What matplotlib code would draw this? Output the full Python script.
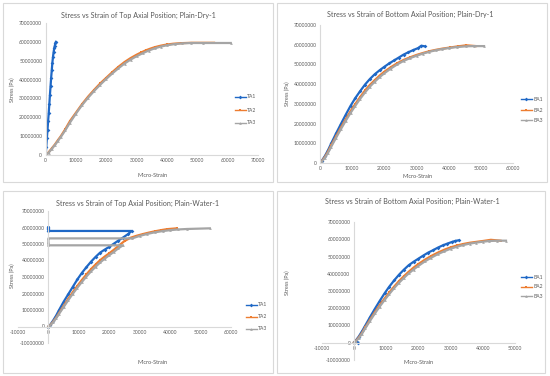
import matplotlib.pyplot as plt
from matplotlib.patches import Rectangle
from matplotlib.ticker import MultipleLocator, FuncFormatter

# ---- data (strain in micro-strain, stress in MPa -> plotted in Pa) ----
# top axial, dry
ta1_dry_strain = [0, 200, 400, 600, 800, 1000, 1200, 1400, 1600, 1800, 2000, 2200, 2400, 2600, 2800, 3000, 3200, 3350]
ta1_dry_mpa = [0, 4.5, 9, 13.5, 18, 22.5, 27, 32, 36.5, 41, 45, 49, 52, 54.5, 56.5, 58, 59.3, 60]
ta2_dry_strain = [0, 1000, 2000, 3000, 4000, 5000, 6500, 8000, 10000, 12000, 14000, 16000, 18000, 20000, 22000,
                  24000, 26000, 28000, 30000, 31500, 33000, 34500, 36000, 38000, 40000, 42000, 44500, 48000, 55500]
ta2_dry_mpa = [0, 1.5, 3.5, 5.5, 7.8, 10, 13.8, 18, 22.5, 27, 31, 34.6, 38, 41, 44, 46.8, 49.3, 51.4, 53.2, 54.4,
               55.5, 56.4, 57.2, 58.0, 58.6, 59.0, 59.3, 59.5, 59.5]
ta3_dry_strain = [0, 1000, 2000, 3000, 4000, 5000, 6500, 8000, 10000, 12000, 14000, 16000, 18000, 20000, 22000,
                  24000, 26000, 28000, 30000, 32000, 34000, 36000, 38000, 40000, 42500, 45000, 48000, 52000, 61000]
ta3_dry_mpa = [0, 1.3, 3.2, 5.2, 7.4, 9.6, 13.2, 17.2, 22, 26.5, 30.4, 34, 37.3, 40.4, 43.3, 46, 48.5, 50.6, 52.4,
               54, 55.4, 56.6, 57.5, 58.2, 58.8, 59.2, 59.4, 59.4, 59.4]

# bottom axial, dry
ba1_dry_strain = [0, 500, 1500, 2500, 3500, 5000, 6500, 8000, 9500, 11000, 12500, 14000, 15500, 17000, 18500,
                  20000, 21500, 23000, 24500, 26000, 27500, 29000, 30500, 31500, 32500]
ba1_dry_mpa = [0, 1, 3.5, 6.5, 10, 15, 19.8, 24.5, 29, 33, 36.5, 39.8, 42.6, 45, 47, 48.8, 50.5, 52, 53.5, 55,
               56.2, 57.3, 58.3, 59.5, 59.2]
ba2_dry_strain = [0, 500, 1500, 2500, 3500, 5000, 6500, 8000, 9500, 11000, 12500, 14000, 15500, 17000, 18500,
                  20000, 22000, 24000, 26000, 28000, 30000, 32000, 34000, 36000, 38000, 40500, 43000, 45500, 48500]
ba2_dry_mpa = [0, 0.8, 3, 5.8, 9, 13.5, 18, 22.2, 26.3, 30, 33.5, 36.8, 39.6, 42, 44.3, 46.3, 48.6, 50.6, 52.3,
               53.6, 54.8, 55.8, 56.7, 57.4, 58, 58.6, 59.2, 59.7, 59.3]
ba3_dry_strain = [0, 500, 1500, 2500, 3500, 5000, 6500, 8000, 9500, 11000, 12500, 14000, 15500, 17000, 18500,
                  20000, 22000, 24000, 26000, 28000, 30000, 32000, 34000, 36000, 38000, 40000, 42500, 45500, 48000, 51000]
ba3_dry_mpa = [0, 0.6, 2.6, 5.2, 8.3, 12.8, 17.2, 21.4, 25.4, 29.1, 32.6, 35.8, 38.7, 41.2, 43.5, 45.5, 47.9, 50,
               51.8, 53.2, 54.4, 55.5, 56.4, 57.2, 57.8, 58.3, 58.8, 59.2, 59.3, 59.3]

# top axial, water (gauges jump back to zero strain near failure)
ta1_wet_strain = [0, 500, 1500, 2500, 3500, 5000, 6500, 8000, 9500, 11000, 12500, 14000, 15500, 17000, 18500,
                  20000, 21500, 23000, 24500, 26000, 27400, 0, 0, 0, 0]
ta1_wet_mpa = [0, 0.8, 3.5, 6.5, 10, 15, 19.5, 24, 28.5, 32.5, 36, 39.3, 42.2, 44.8, 46.6, 48.3, 50.2, 52.1, 53.9,
               55.8, 57.9, 57.9, 58.8, 59.6, 60.2]
ta2_wet_strain = [0, 500, 1500, 2500, 3500, 5000, 6500, 8000, 9500, 11000, 12500, 14000, 15500, 17000, 18500,
                  20000, 21500, 23000, 25000, 27000, 29000, 31000, 33000, 35000, 37000, 39000, 42200]
ta2_wet_mpa = [0, 0.6, 2.8, 5.3, 8.2, 12.5, 16.8, 20.8, 24.6, 28.2, 31.6, 34.8, 37.6, 40.2, 42.4, 44.4, 46.5,
               48.8, 51.8, 53.8, 55, 56, 56.9, 57.7, 58.4, 59.0, 59.5]
ta3_wet_strain = [0, 500, 1500, 2500, 3500, 5000, 6500, 8000, 9500, 11000, 12500, 14000, 15500, 17000, 18500,
                  20000, 21500, 23000, 24500, 0, 0, 0, 27500, 30000, 32500, 35000, 37500, 40000, 42500, 45500, 53000]
ta3_wet_mpa = [0, 0.5, 2.5, 4.9, 7.7, 11.8, 15.9, 19.8, 23.5, 27, 30.3, 33.4, 36.2, 38.8, 41.1, 43.2, 45.2, 47.4,
               49.2, 49.2, 51.3, 53.4, 53.4, 54.9, 56.1, 57.1, 57.8, 58.4, 58.8, 59.1, 59.5]

# bottom axial, water
ba1_wet_strain = [1300, 0, 500, 1500, 2500, 3500, 5000, 6500, 8000, 9500, 11000, 12500, 14000, 15500, 17000,
                  18500, 20000, 21500, 23000, 24500, 26000, 27500, 29000, 30500, 31500, 32500]
ba1_wet_mpa = [0, 0.2, 1, 3.5, 6.5, 9.8, 14.8, 19.6, 24.2, 28.6, 32.6, 36.2, 39.5, 42.4, 45, 47, 48.8, 50.6, 52.3,
               53.7, 55.2, 56.5, 57.6, 58.6, 59.2, 59.5]
ba2_wet_strain = [0, 500, 1500, 2500, 3500, 5000, 6500, 8000, 9500, 11000, 12500, 14000, 15500, 17000, 18500,
                  20000, 22000, 24000, 26000, 28000, 30000, 32000, 34000, 36000, 38000, 40000, 42500, 45500]
ba2_wet_mpa = [0, 0.7, 2.9, 5.6, 8.8, 13.3, 17.7, 21.8, 25.6, 29.2, 32.6, 35.8, 38.6, 41.2, 43.6, 45.7, 48.2,
               50.4, 52.3, 54, 55.4, 56.5, 57.4, 58.1, 58.6, 59.1, 59.8, 59.3]
ba3_wet_strain = [0, 500, 1500, 2500, 3500, 5000, 6500, 8000, 9500, 11000, 12500, 14000, 15500, 17000, 18500,
                  20000, 22000, 24000, 26000, 28000, 30000, 32000, 34000, 36000, 38000, 40000, 42000, 44500, 47200]
ba3_wet_mpa = [0, 0.5, 2.5, 5.1, 8.2, 12.6, 16.9, 20.9, 24.7, 28.3, 31.7, 34.8, 37.6, 40.2, 42.5, 44.6, 47.2,
               49.4, 51.4, 53.1, 54.6, 55.8, 56.8, 57.6, 58.2, 58.7, 59.1, 59.3, 59.3]

titles = ["Stress vs Strain of Top Axial Position; Plain-Dry-1",
          "Stress vs Strain of Bottom Axial Position; Plain-Dry-1",
          "Stress vs Strain of Top Axial Position; Plain-Water-1",
          "Stress vs Strain of Bottom Axial Position; Plain-Water-1"]
top_labels = ["TA1", "TA2", "TA3"]
bottom_labels = ["BA1", "BA2", "BA3"]

colors = ["#1F68C6", "#ED7D31", "#A5A5A5"]
markers = ["D", "s", "^"]
txt = "#595959"
axis_grey = "#D9D9D9"
plt.rcParams['font.family'] = ['Lato', 'DejaVu Sans']

fig = plt.figure(figsize=(5.5, 3.76), dpi=100)
W, H = 550.0, 376.0


def fx(px):
    return px / W


def fy(py):
    return 1 - py / H


# panel frames
for x0, y0, x1, y1 in [(3, 3, 273, 182), (277, 3, 547, 182), (3, 191, 273, 373), (277, 191, 545, 373)]:
    fig.patches.append(Rectangle((fx(x0), fy(y1)), (x1 - x0) / W, (y1 - y0) / H, transform=fig.transFigure,
                                 fill=False, edgecolor=axis_grey, lw=0.8))


def panel(box, series, labels, xlim, ylim, title_xy, ylab_xy, xlab_xy, leg_xy, leg_space, crossing):
    left, top, right, bottom = box
    ax = fig.add_axes([fx(left), fy(bottom), (right - left) / W, (bottom - top) / H])
    for (sx, sy), lab, c, m in zip(series, labels, colors, markers):
        ax.plot(sx, [v * 1e6 for v in sy], color=c, lw=1.6, marker=m, ms=1.9, mew=0, mfc=c, label=lab)
    ax.set_xlim(*xlim)
    ax.set_ylim(*ylim)
    ax.xaxis.set_major_locator(MultipleLocator(10000))
    ax.yaxis.set_major_locator(MultipleLocator(10000000))
    fmt = FuncFormatter(lambda v, p: "%d" % round(v))
    ax.xaxis.set_major_formatter(fmt)
    ax.yaxis.set_major_formatter(fmt)
    for s in ["top", "right"]:
        ax.spines[s].set_visible(False)
    for s in ["left", "bottom"]:
        ax.spines[s].set_color(axis_grey)
        ax.spines[s].set_linewidth(0.8)
    if crossing:
        ax.spines["left"].set_position(("data", 0))
        ax.spines["bottom"].set_position(("data", 0))
    ax.tick_params(length=0, labelsize=3.6, labelcolor=txt, pad=2.5)
    ax.patch.set_alpha(0)
    fig.text(fx(title_xy[0]), fy(title_xy[1]), titles[panel.i], ha="center", va="center", fontsize=5.1, color=txt)
    fig.text(fx(ylab_xy[0]), fy(ylab_xy[1]), "Stress (Pa)", ha="center", va="center", rotation=90,
             fontsize=4.0, color=txt)
    fig.text(fx(xlab_xy[0]), fy(xlab_xy[1]), "Micro-Strain", ha="center", va="center", fontsize=4.0, color=txt)
    leg = ax.legend(loc="center left", bbox_to_anchor=(fx(leg_xy[0]), fy(leg_xy[1])), bbox_transform=fig.transFigure,
                    frameon=False, fontsize=3.6, handlelength=2.2, handletextpad=0.3, borderpad=0,
                    labelspacing=leg_space, markerscale=1.0)
    for line in leg.get_lines():
        line.set_linewidth(1.0)
    for t in leg.get_texts():
        t.set_color(txt)
    panel.i += 1
    return ax


panel.i = 0

panel((45.7, 23, 258, 155),
      [(ta1_dry_strain, ta1_dry_mpa), (ta2_dry_strain, ta2_dry_mpa), (ta3_dry_strain, ta3_dry_mpa)],
      top_labels, (0, 70000), (0, 70000000), (138, 15), (12, 90), (153, 175), (232, 110), 1.6, False)

panel((320, 25, 513, 163),
      [(ba1_dry_strain, ba1_dry_mpa), (ba2_dry_strain, ba2_dry_mpa), (ba3_dry_strain, ba3_dry_mpa)],
      bottom_labels, (0, 60000), (0, 70000000), (410, 14), (287, 94), (418, 177), (518, 110), 1.1, False)

panel((18, 211, 231, 343),
      [(ta1_wet_strain, ta1_wet_mpa), (ta2_wet_strain, ta2_wet_mpa), (ta3_wet_strain, ta3_wet_mpa)],
      top_labels, (-10000, 60000), (-10000000, 70000000), (137, 203), (12, 276), (153, 363), (243, 317), 1.4, True)

panel((321.7, 222.3, 515, 359.7),
      [(ba1_wet_strain, ba1_wet_mpa), (ba2_wet_strain, ba2_wet_mpa), (ba3_wet_strain, ba3_wet_mpa)],
      bottom_labels, (-10000, 50000), (-10000000, 70000000), (412, 201), (287, 283), (419, 363), (518, 287), 0.9,
      True)

fig.savefig("out.png", dpi=100)
